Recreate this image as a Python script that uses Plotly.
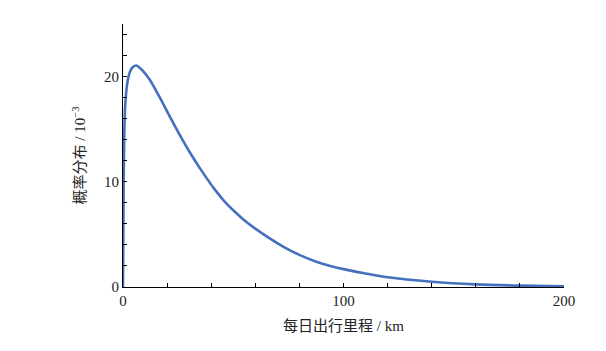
import plotly.graph_objects as go

# Values (x in km, y in 10^-3)
distance_km = [0, 0.3, 1, 2.3, 4, 6, 7.5, 9, 12, 16.6, 21, 25.6, 30, 35, 41.5, 46, 50.5,
               55, 60, 66, 73, 80, 87, 94, 100, 110, 120, 140, 160, 180, 200]
probability = [0, 10, 17.3, 19.8, 20.8, 21.05, 20.85, 20.55, 19.75, 18.05, 16.3, 14.5, 12.9, 11.25, 9.3, 8.15, 7.2,
               6.35, 5.55, 4.7, 3.8, 3.05, 2.45, 2.0, 1.7, 1.28, 0.92, 0.5, 0.25, 0.13, 0.07]

x_ticks = [0, 100, 200]
y_ticks = [0, 10, 20]

FONT = "Liberation Serif, Times New Roman, Noto Sans CJK SC, serif"

fig = go.Figure()
fig.add_trace(go.Scatter(
    x=distance_km, y=probability, mode="lines",
    line=dict(color="#4470BE", width=2.6, shape="spline", smoothing=0.8),
    showlegend=False, hoverinfo="skip",
))

axis_common = dict(
    showline=True, linecolor="black", linewidth=1,
    ticks="inside", ticklen=4, tickwidth=1, tickcolor="black",
    showgrid=False, zeroline=False, mirror=False,
    tickfont=dict(family=FONT, size=15, color="#222"),
)

fig.update_layout(
    width=606, height=351,
    margin=dict(l=123, r=42, t=24, b=64),
    paper_bgcolor="white", plot_bgcolor="white",
    font=dict(family=FONT, size=15, color="#222"),
    xaxis=dict(
        range=[0, 200], tickvals=x_ticks,
        minor=dict(dtick=20, tick0=0, ticks="inside", ticklen=4, tickcolor="black", tickwidth=1),
        title=dict(text="每日出行里程 / km", font=dict(family=FONT, size=15), standoff=12),
        **axis_common,
    ),
    yaxis=dict(
        range=[0, 25], tickvals=y_ticks,
        minor=dict(dtick=2, tick0=0, ticks="inside", ticklen=4, tickcolor="black", tickwidth=1),
        title=dict(text="概率分布 / 10<sup>−3</sup>", font=dict(family=FONT, size=15), standoff=14),
        **axis_common,
    ),
)

fig.write_html("out.html")
